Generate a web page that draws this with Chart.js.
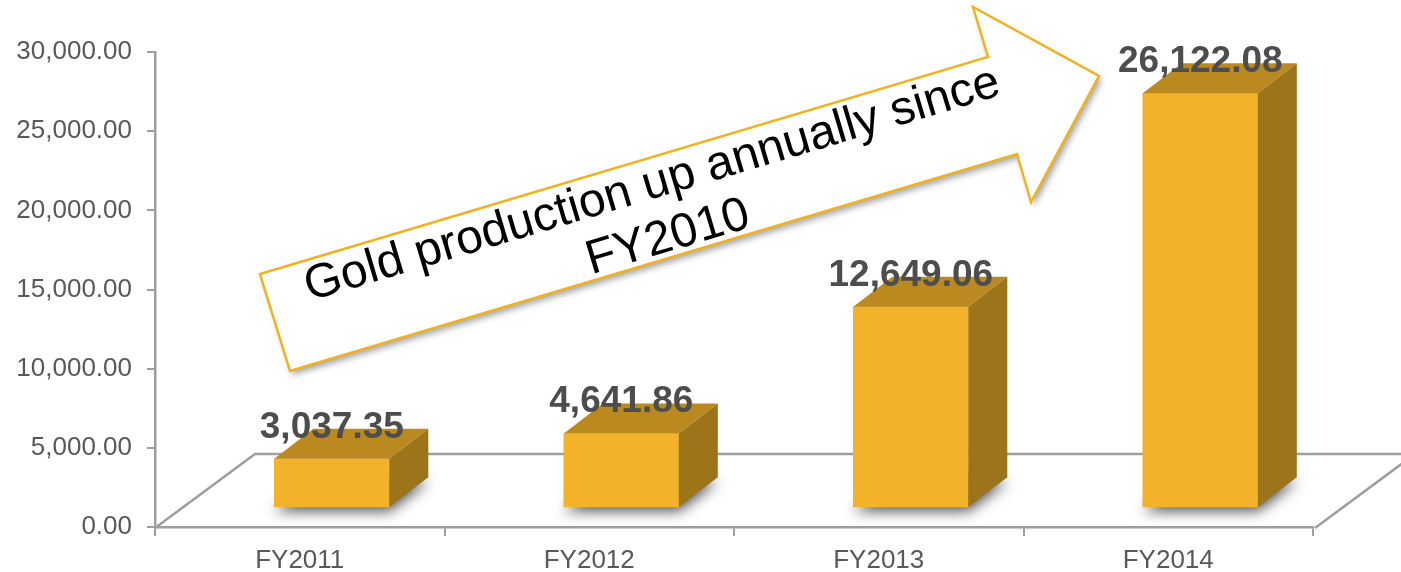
<!DOCTYPE html>
<html>
<head>
<meta charset="utf-8">
<script src="https://cdn.jsdelivr.net/npm/chart.js@4.4.1/dist/chart.umd.min.js"></script>
<style>
  html, body { margin: 0; padding: 0; background: #fff; }
  #wrap { width: 1401px; height: 572px; }
</style>
</head>
<body>
<div id="wrap"><canvas id="goldChart" width="1401" height="572"></canvas></div>
<script>
// chart data
var categories = ['FY2011', 'FY2012', 'FY2013', 'FY2014'];
var production = [3037.35, 4641.86, 12649.06, 26122.08];
var yTicks = [0, 5000, 10000, 15000, 20000, 25000, 30000];
var arrowLines = ['Gold production up annually since', 'FY2010'];

var axisGray = '#9E9E9E';
var textGray = '#595959';
var faceFront = '#F2B32A';
var faceTop = '#BA8920';
var faceSide = '#9C741A';

var depthX = 39, depthY = 30;      // bar depth (3d look)
var floorX = 100, floorY = 74;     // floor depth
var shiftX = 32, shiftY = 20;      // bars sit in the middle of the floor
var plotW = 1311 - 155, plotH = 526 - 52;

function fmt(v){
    return v.toLocaleString('en-US', {minimumFractionDigits: 2, maximumFractionDigits: 2});
}

var threeD = {
    id: 'threeD',
    beforeDatasetsDraw: function(chart){
        var ctx = chart.ctx;
        var a = chart.chartArea;
        // floor
        ctx.save();
        ctx.strokeStyle = axisGray;
        ctx.lineWidth = 2.5;
        ctx.beginPath();
        ctx.moveTo(a.left, a.bottom + 1);
        ctx.lineTo(a.left + floorX, a.bottom + 1 - floorY);
        ctx.lineTo(chart.width + 20, a.bottom + 1 - floorY);
        ctx.moveTo(a.right + 2, a.bottom + 1);
        ctx.lineTo(a.right + 2 + floorX, a.bottom + 1 - floorY);
        ctx.stroke();
        ctx.restore();
        // shadows under the bars
        var meta = chart.getDatasetMeta(0);
        meta.data.forEach(function(bar){
            var x0 = bar.x - bar.width / 2, x1 = bar.x + bar.width / 2, b = bar.base;
            ctx.save();
            ctx.shadowColor = 'rgba(0,0,0,0.7)';
            ctx.shadowBlur = 14;
            ctx.shadowOffsetY = 4;
            ctx.fillStyle = '#777';
            ctx.beginPath();
            ctx.moveTo(x0, b);
            ctx.lineTo(x1, b);
            ctx.lineTo(x1 + depthX, b - depthY);
            ctx.lineTo(x0 + depthX, b - depthY);
            ctx.closePath();
            ctx.fill();
            ctx.restore();
        });
    },
    afterDatasetsDraw: function(chart){
        var ctx = chart.ctx;
        var meta = chart.getDatasetMeta(0);
        meta.data.forEach(function(bar, i){
            var x0 = bar.x - bar.width / 2, x1 = bar.x + bar.width / 2;
            var t = bar.y, b = bar.base;
            ctx.save();
            ctx.fillStyle = faceTop;
            ctx.beginPath();
            ctx.moveTo(x0, t);
            ctx.lineTo(x1, t);
            ctx.lineTo(x1 + depthX, t - depthY);
            ctx.lineTo(x0 + depthX, t - depthY);
            ctx.closePath();
            ctx.fill();
            ctx.fillStyle = faceSide;
            ctx.beginPath();
            ctx.moveTo(x1, t);
            ctx.lineTo(x1 + depthX, t - depthY);
            ctx.lineTo(x1 + depthX, b - depthY);
            ctx.lineTo(x1, b);
            ctx.closePath();
            ctx.fill();
            ctx.restore();
        });
        // value labels
        meta.data.forEach(function(bar, i){
            ctx.save();
            ctx.font = 'bold 37px "Liberation Sans", Arial, sans-serif';
            ctx.fillStyle = '#4D4D4D';
            ctx.textAlign = 'center';
            ctx.textBaseline = 'alphabetic';
            ctx.fillText(fmt(production[i]), bar.x, bar.y - 21);
            ctx.restore();
        });
        drawArrow(ctx);
    }
};

function drawArrow(ctx){
    var pts = [[260, 274], [988, 57], [973, 7], [1099, 76], [1031, 202], [1017, 154], [290, 371]];
    ctx.save();
    ctx.beginPath();
    ctx.moveTo(pts[0][0], pts[0][1]);
    for (var i = 1; i < pts.length; i++) ctx.lineTo(pts[i][0], pts[i][1]);
    ctx.closePath();
    ctx.shadowColor = 'rgba(0,0,0,0.35)';
    ctx.shadowBlur = 6;
    ctx.shadowOffsetX = 3;
    ctx.shadowOffsetY = 4;
    ctx.fillStyle = '#fff';
    ctx.fill();
    ctx.shadowColor = 'transparent';
    ctx.strokeStyle = '#F2B21F';
    ctx.lineWidth = 2.5;
    ctx.lineJoin = 'miter';
    ctx.stroke();
    // text
    ctx.translate(660, 211);
    ctx.rotate(Math.atan2(-217, 728));
    ctx.font = '48px "Liberation Sans", Arial, sans-serif';
    ctx.fillStyle = '#000';
    ctx.textAlign = 'center';
    ctx.textBaseline = 'middle';
    ctx.fillText(arrowLines[0], 0, -27);
    ctx.fillText(arrowLines[1], 0, 28);
    ctx.restore();
}

var barPoints = production.map(function(v, i){ return {x: i, y: v}; });

var xbMin = -0.5 - shiftX / (plotW / categories.length);
var ybMin = -shiftY / plotH * 30000;

var ctx1 = document.getElementById('goldChart');
var chart = new Chart(ctx1, {
    type: 'bar',
    data: {
        labels: categories,
        datasets: [{
            label: 'Gold production',
            data: barPoints,
            backgroundColor: faceFront,
            borderWidth: 0,
            barThickness: 115,
            xAxisID: 'xb',
            yAxisID: 'yb'
        }]
    },
    options: {
        responsive: false,
        devicePixelRatio: 1,
        animation: false,
        layout: { padding: { top: 52, right: 88, bottom: 0, left: 0 } },
        plugins: {
            legend: { display: false },
            tooltip: { enabled: false }
        },
        scales: {
            x: {
                type: 'category',
                offset: true,
                position: 'bottom',
                grid: { offset: true, drawOnChartArea: false, drawTicks: true, tickLength: 9, color: axisGray, lineWidth: 2 },
                border: { display: true, color: axisGray, width: 2.5 },
                ticks: { color: textGray, font: { family: '"Liberation Sans", Arial, sans-serif', size: 26 }, padding: 9, maxRotation: 0 },
                afterFit: function(scale){ scale.height = 45; }
            },
            y: {
                type: 'linear',
                position: 'left',
                min: 0,
                max: 30000,
                afterBuildTicks: function(scale){ scale.ticks = yTicks.map(function(v){ return {value: v}; }); },
                grid: { drawOnChartArea: false, drawTicks: true, tickLength: 8, color: axisGray, lineWidth: 2 },
                border: { display: true, color: axisGray, width: 2.5 },
                ticks: {
                    color: textGray,
                    font: { family: '"Liberation Sans", Arial, sans-serif', size: 26 },
                    padding: 15,
                    callback: function(v){ return fmt(v); }
                },
                afterFit: function(scale){ scale.width = 155; }
            },
            xb: {
                type: 'linear',
                display: false,
                bounds: 'data',
                offset: false,
                min: xbMin,
                max: xbMin + categories.length
            },
            yb: {
                type: 'linear',
                display: false,
                bounds: 'data',
                min: ybMin,
                max: ybMin + 30000
            }
        }
    },
    plugins: [threeD]
});
</script>
</body>
</html>
